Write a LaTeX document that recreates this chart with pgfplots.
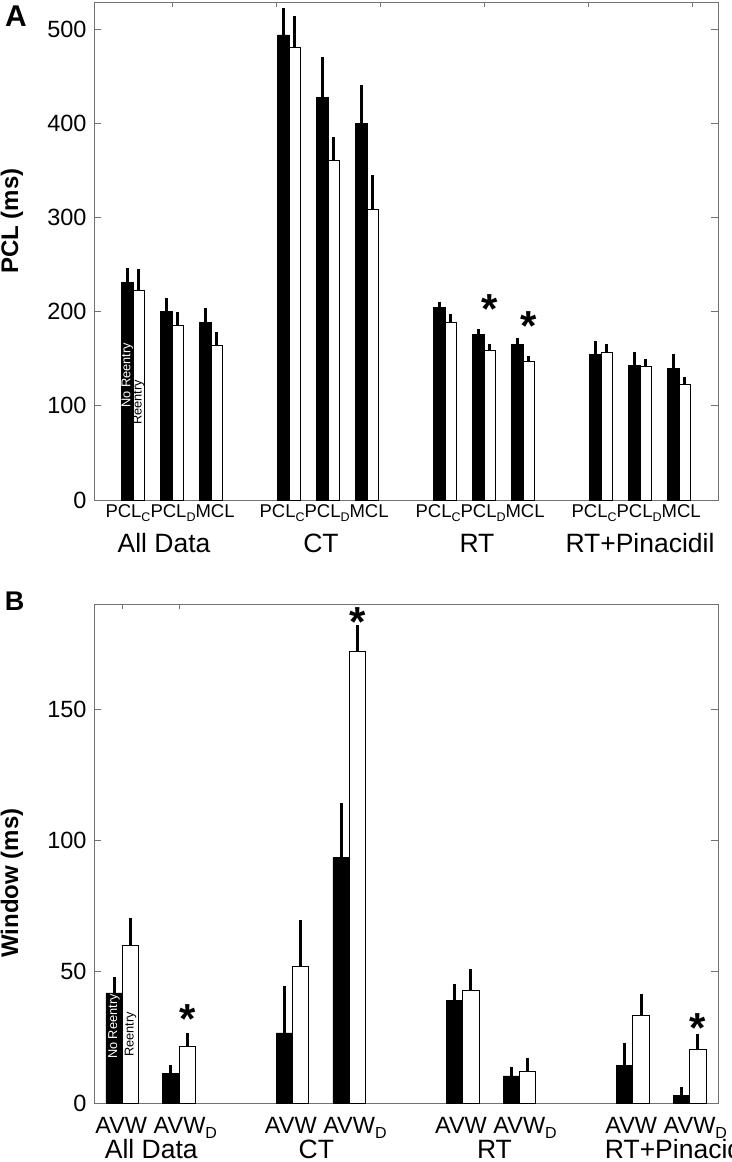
\documentclass[border=0pt]{standalone}
\usepackage{fontspec}
\setmainfont{Liberation Sans}
\usepackage{pgfplots}
\usepackage{pgfplotstable}
\pgfplotsset{compat=1.18}

% Panel A: x, no reentry (b) + SD, reentry (w) + SD
\pgfplotstableread{
x   b      be    w      we
1   231    15    223    22
2   200    15    185    15
3   189    14.5  164    14
5   494    29    480.5  33.5
6   427.5  43    361    25
7   400    41    309    36
9   204.5  6     189    9
10  176    6     158.5  7
11  165.6  7     147    6
13  155    14    156.8  9
14  143.3  13.5  142.3  8
15  140    15    122.8  7.5
}\dataA

% Panel B
\pgfplotstableread{
x   b     be    w      we
1   41.9  5.9   60.1   10.5
2   11.3  3.1   21.4   5.3
4   26.7  17.9  52.1   17.7
5   93.4  20.8  171.9  10.1
7   39.2  6.0   43.0   8.2
8   10.3  3.5   11.9   5.1
10  14.3  8.6   33.3   8.1
11  3.0   3.2   20.4   5.7
}\dataB

\pgfplotsset{
  mybase/.style={
    scale only axis,
    width=624pt,
    axis line style={black!55, line width=0.8pt},
    every tick/.style={black!55, line width=0.8pt},
    tick align=inside,
    major tick length=7pt,
    ytick pos=both,
    xtick=\empty,
    ymin=0,
    clip=false,
    /pgf/number format/assume math mode=true,
    yticklabel style={font=\fontsize{23.5}{24}\selectfont, xshift=-4pt},
  },
  nore/.style={ybar, bar width=0.29, bar shift=-0.145, fill=black, draw=black, line width=0.6pt},
  re/.style={ybar, bar width=0.29, bar shift=0.145, fill=white, draw=black, line width=1pt},
  errs/.style={black, only marks, mark=none, mark size=0pt, forget plot,
    error bars/.cd, y dir=plus, y explicit, error mark=none,
    error bar style={line width=3pt, draw=black, solid}},
}

\newcommand{\catA}{\fontsize{18.5}{20}\selectfont}
\newcommand{\catB}{\fontsize{23.5}{24}\selectfont}
\newcommand{\grp}{\fontsize{26.5}{27}\selectfont}
\newcommand{\sig}{\fontsize{42}{42}\selectfont\bfseries *}
\newcommand{\subA}[1]{\raisebox{-4.5pt}{\fontsize{12.5}{13}\selectfont #1}}
\newcommand{\subB}[1]{\raisebox{-5pt}{\fontsize{16}{16}\selectfont #1}}
\newcommand{\pclA}{PCL\subA{C}PCL\subA{D}MCL}
\newcommand{\avwB}{AVW AVW\subB{D}}

\begin{document}
\begin{tikzpicture}
\useasboundingbox (0pt,0pt) rectangle (731pt,-1162pt);

% ---------------- Panel A ----------------
\begin{axis}[mybase,
  at={(94pt,-2pt)}, anchor=north west,
  height=498pt,
  xmin=0, xmax=16, ymax=529,
  ytick={0,100,200,300,400,500},
]
\addplot[nore] table[x=x, y=b] {\dataA};
\addplot[re] table[x=x, y=w] {\dataA};
\addplot[errs] table[x expr=\thisrow{x}-0.145, y=b, y error=be] {\dataA};
\addplot[errs] table[x expr=\thisrow{x}+0.145, y=w, y error=we] {\dataA};

% top tick marks
\pgfplotsinvokeforeach{2,4.667,7.333,10,12.667,15.333}{
  \draw[black!55, line width=0.8pt] (axis cs:#1,529) -- ++(0pt,-5pt);
}

% in-bar legend text
\node[rotate=90, anchor=west, inner sep=0pt, text=white, font=\fontsize{12.8}{13}\selectfont] at (axis cs:0.855,97.7) {No Reentry};
\node[rotate=90, anchor=west, inner sep=0pt, text=black, font=\fontsize{12.8}{13}\selectfont] at (axis cs:1.145,79.6) {Reentry};

% asterisks
\node[anchor=north, inner sep=0pt] at (axis cs:10.145,218.5) {\sig};
\node[anchor=north, inner sep=0pt] at (axis cs:11.145,200.5) {\sig};

% category labels
\node[anchor=base, inner sep=0pt, font=\catA] at ([yshift=-17pt]axis cs:1.95,0) {\pclA};
\node[anchor=base, inner sep=0pt, font=\catA] at ([yshift=-17pt]axis cs:5.9,0) {\pclA};
\node[anchor=base, inner sep=0pt, font=\catA] at ([yshift=-17pt]axis cs:9.9,0) {\pclA};
\node[anchor=base, inner sep=0pt, font=\catA] at ([yshift=-17pt]axis cs:13.9,0) {\pclA};

% group labels
\node[anchor=base, inner sep=0pt, font=\grp] at ([yshift=-52pt]axis cs:1.795,0) {All Data};
\node[anchor=base, inner sep=0pt, font=\grp] at ([yshift=-52pt]axis cs:5.82,0) {CT};
\node[anchor=base, inner sep=0pt, font=\grp] at ([yshift=-52pt]axis cs:9.82,0) {RT};
\node[anchor=base, inner sep=0pt, font=\grp] at ([yshift=-52pt]axis cs:14.0,0) {RT+Pinacidil};
\end{axis}

% ---------------- Panel B ----------------
\begin{axis}[mybase,
  at={(94pt,-1103pt)}, anchor=south west,
  height=499pt,
  xmin=0.5, xmax=11.5, ymax=190,
  ytick={0,50,100,150},
]
\addplot[nore] table[x=x, y=b] {\dataB};
\addplot[re] table[x=x, y=w] {\dataB};
\addplot[errs] table[x expr=\thisrow{x}-0.145, y=b, y error=be] {\dataB};
\addplot[errs] table[x expr=\thisrow{x}+0.145, y=w, y error=we] {\dataB};

\pgfplotsinvokeforeach{1,2}{
  \draw[black!55, line width=0.8pt] (axis cs:#1,190) -- ++(0pt,-5pt);
}

\node[rotate=90, anchor=west, inner sep=0pt, text=white, font=\fontsize{12.8}{13}\selectfont] at (axis cs:0.855,16.7) {No Reentry};
\node[rotate=90, anchor=west, inner sep=0pt, text=black, font=\fontsize{12.8}{13}\selectfont] at (axis cs:1.145,17.5) {Reentry};

\node[anchor=north, inner sep=0pt] at (axis cs:2.145,37.5) {\sig};
\node[anchor=north, inner sep=0pt] at (axis cs:5.145,188.6) {\sig};
\node[anchor=north, inner sep=0pt] at (axis cs:11.145,34) {\sig};

\node[anchor=base west, inner sep=0pt, font=\catB] at ([yshift=-30pt]axis cs:0.52,0) {\avwB};
\node[anchor=base west, inner sep=0pt, font=\catB] at ([yshift=-30pt]axis cs:3.51,0) {\avwB};
\node[anchor=base west, inner sep=0pt, font=\catB] at ([yshift=-30pt]axis cs:6.51,0) {\avwB};
\node[anchor=base west, inner sep=0pt, font=\catB] at ([yshift=-30pt]axis cs:9.51,0) {\avwB};

\node[anchor=base, inner sep=0pt, font=\grp] at ([yshift=-55pt]axis cs:1.51,0) {All Data};
\node[anchor=base, inner sep=0pt, font=\grp] at ([yshift=-55pt]axis cs:4.42,0) {CT};
\node[anchor=base, inner sep=0pt, font=\grp] at ([yshift=-55pt]axis cs:7.56,0) {RT};
\node[anchor=base, inner sep=0pt, font=\grp] at ([yshift=-55pt]axis cs:10.82,0) {RT+Pinacidil};
\end{axis}

% panel letters and axis titles
\node[font=\fontsize{30}{30}\selectfont\bfseries, inner sep=0pt] at (16pt,-16pt) {A};
\node[font=\fontsize{27}{27}\selectfont\bfseries, inner sep=0pt] at (14.5pt,-601pt) {B};
\node[rotate=90, font=\fontsize{24}{24}\selectfont\bfseries, inner sep=0pt] at (12pt,-221pt) {PCL (ms)};
\node[rotate=90, font=\fontsize{24}{24}\selectfont\bfseries, inner sep=0pt] at (12pt,-883pt) {Window (ms)};
\end{tikzpicture}
\end{document}
